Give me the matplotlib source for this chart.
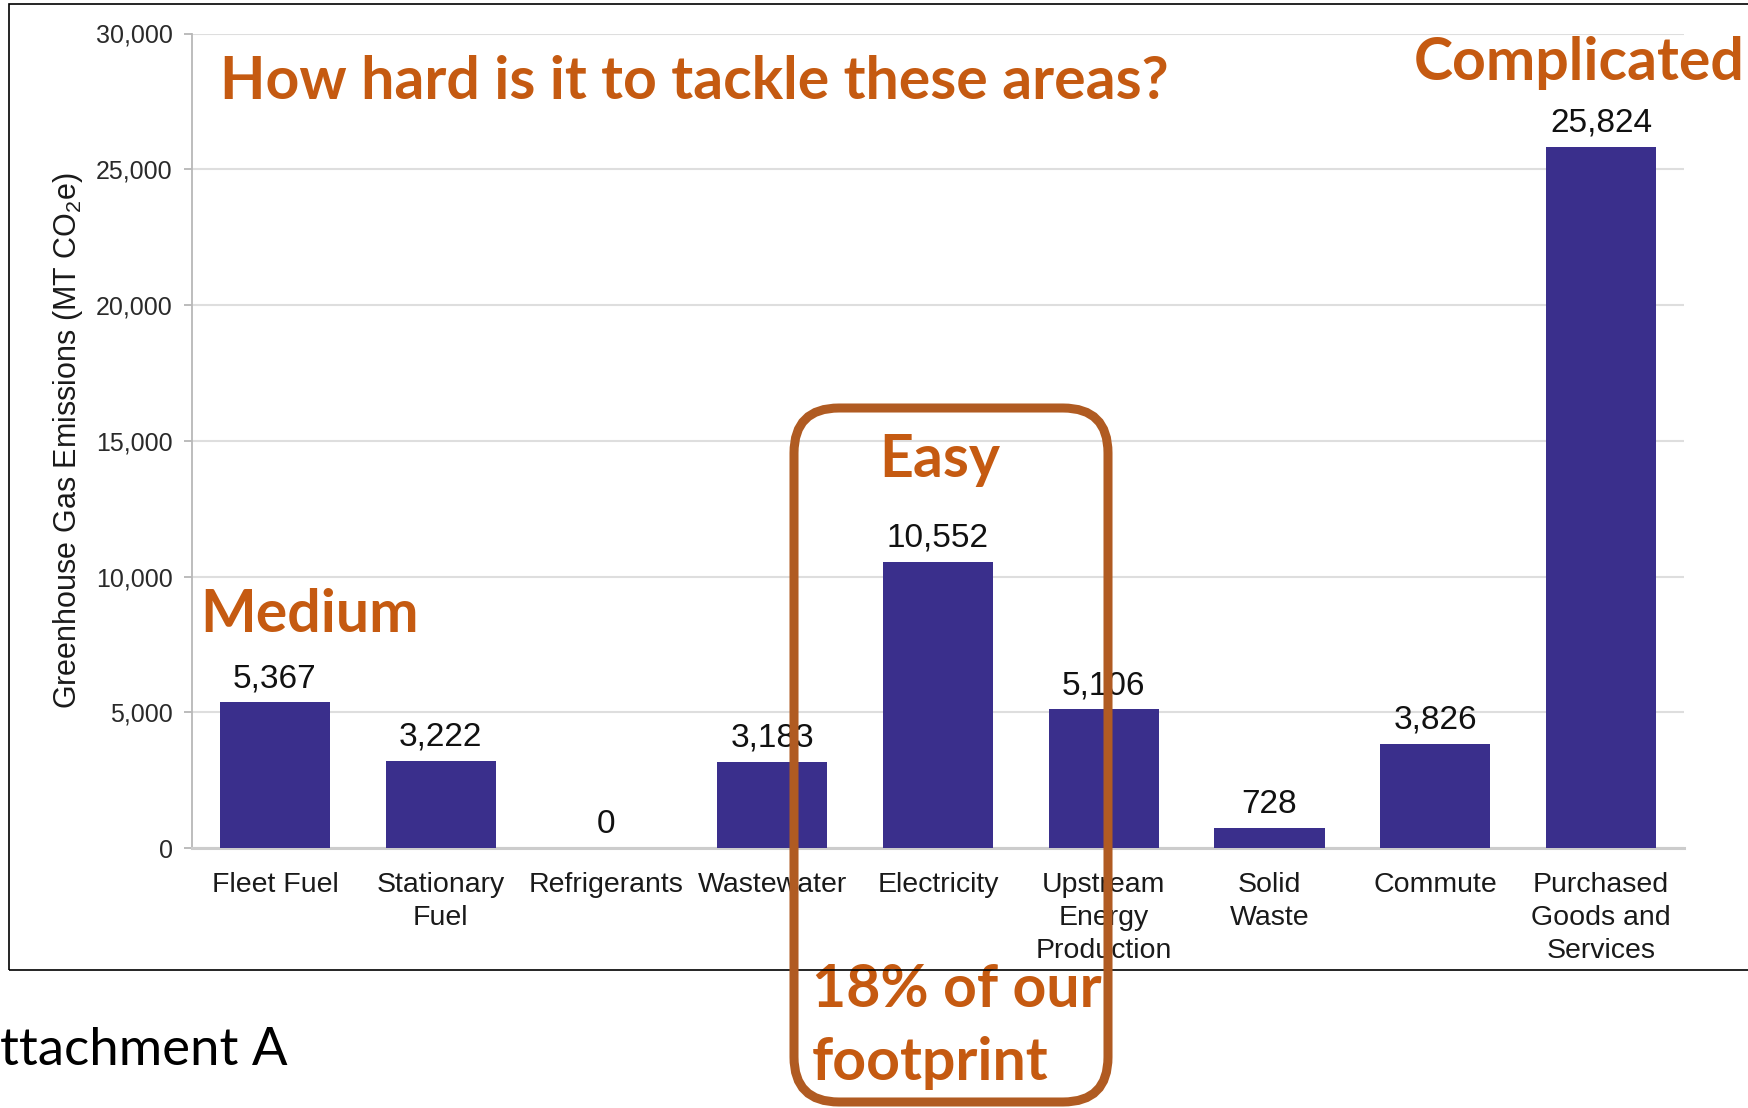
import matplotlib.pyplot as plt
from matplotlib.patches import FancyBboxPatch, Rectangle
from matplotlib.ticker import FuncFormatter

# emissions by source (MT CO2e)
categories = ["Fleet Fuel", "Stationary\nFuel", "Refrigerants", "Wastewater", "Electricity",
              "Upstream\nEnergy\nProduction", "Solid\nWaste", "Commute",
              "Purchased\nGoods and\nServices"]
emissions = [5367, 3222, 0, 3183, 10552, 5106, 728, 3826, 25824]
y_ticks = [0, 5000, 10000, 15000, 20000, 25000, 30000]

bar_color = '#3a2f8c'
orange = '#c55a11'
box_color = '#b05b22'
grid_color = '#dedede'

plt.rcParams['font.family'] = ['Liberation Sans', 'DejaVu Sans']
plt.rcParams['mathtext.fontset'] = 'custom'
plt.rcParams['mathtext.rm'] = 'Liberation Sans'

W, H = 1749, 1108
fig = plt.figure(figsize=(W / 100, H / 100), dpi=100)
ax = fig.add_axes([192 / W, 1 - 848 / H, (1684 - 192) / W, (848 - 33.5) / H])

x = list(range(len(categories)))
ax.bar(x, emissions, width=0.665, color=bar_color, zorder=3)

# value labels above each bar
for xi, v in zip(x, emissions):
    ax.annotate(f"{v:,}", (xi, v), xytext=(0, 11), textcoords='offset points',
                ha='center', va='baseline', fontsize=24, color='#111111')

ax.set_xlim(-0.5, len(categories) - 0.5)
ax.set_ylim(0, 30000)
ax.set_yticks(y_ticks)
ax.yaxis.set_major_formatter(FuncFormatter(lambda v, p: f"{int(v):,}"))
ax.set_xticks(x)
ax.set_xticklabels(categories, fontsize=20.5, color='#1a1a1a', linespacing=1.37)
ax.tick_params(axis='x', length=0, pad=17)
ax.tick_params(axis='y', length=6, width=1.2, color='#b0b0b0', pad=8,
               labelsize=18, labelcolor='#2a2a2a')

ax.grid(axis='y', color=grid_color, linewidth=1.5, zorder=0)
ax.set_axisbelow(True)
for s in ['top', 'right']:
    ax.spines[s].set_visible(False)
ax.spines['left'].set_color('#b8b8b8')
ax.spines['left'].set_linewidth(1.3)
ax.spines['bottom'].set_color('#cccccc')
ax.spines['bottom'].set_linewidth(2.2)

ax.set_ylabel("Greenhouse Gas Emissions (MT CO$_2$e)", fontsize=22, color='#1a1a1a')
ax.yaxis.set_label_coords(-0.072, 0.5)

# thin frame around the chart area
fig.add_artist(Rectangle((9 / W, 1 - 970 / H), 1.0, (970 - 4) / H,
                         transform=fig.transFigure, fill=False,
                         edgecolor='black', linewidth=1.2, zorder=4))

# orange annotations
note = dict(family=['Lato', 'DejaVu Sans'], fontweight='bold', color=orange,
            fontsize=42.5, va='baseline', ha='left')
fig.text(220 / W, 1 - 99 / H, "How hard is it to tackle these areas?", **note)
fig.text(1414 / W, 1 - 80 / H, "Complicated", **note)
fig.text(200 / W, 1 - 632 / H, "Medium", **note)
fig.text(879 / W, 1 - 477 / H, "Easy", **note)
fig.text(812 / W, 1 - 1007 / H, "18% of our", **note)
fig.text(812 / W, 1 - 1080 / H, "footprint", **note)

fig.text(0, 1 - 1065 / H, "ttachment A", family=['Lato', 'DejaVu Sans'],
         fontsize=38, color='black', va='baseline', ha='left')

# rounded box around the electricity column
fig.add_artist(FancyBboxPatch((7.94, 0.06), 3.14, 6.94,
                              boxstyle='round,pad=0,rounding_size=0.45',
                              transform=fig.dpi_scale_trans, fill=False,
                              edgecolor=box_color, linewidth=6.5, zorder=5))

fig.savefig('out.png', dpi=100)
